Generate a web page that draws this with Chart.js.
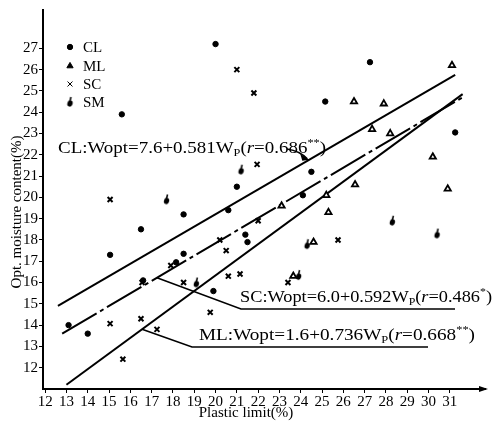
<!DOCTYPE html>
<html>
<head>
<meta charset="utf-8">
<script src="https://cdn.jsdelivr.net/npm/chart.js@4.4.1/dist/chart.umd.min.js"></script>
<style>
  html, body { margin: 0; padding: 0; background: #fff; }
</style>
</head>
<body>
<canvas id="myChart" width="495" height="426"></canvas>
<script>
// tick labels
var xTicks = [12, 13, 14, 15, 16, 17, 18, 19, 20, 21, 22, 23, 24, 25, 26, 27, 28, 29, 30, 31];
var yTicks = [12, 13, 14, 15, 16, 17, 18, 19, 20, 21, 22, 23, 24, 25, 26, 27];

// soil groups (plastic limit Wp, optimum moisture Wopt)
var clWp   = [20.0, 15.6, 21.0, 20.6, 18.5, 16.5, 15.05, 27.25, 25.15, 31.25, 24.5, 24.1, 21.4, 21.5, 18.5, 18.15, 16.6, 19.9, 13.1, 14.0];
var clWopt = [27.2, 23.9, 20.5, 19.4, 19.2, 18.5, 17.3, 26.35, 24.5, 23.05, 21.2, 20.1, 18.25, 17.9, 17.35, 16.95, 16.1, 15.6, 14.0, 13.6];

var mlWp   = [31.1, 26.5, 27.9, 27.35, 28.2, 30.2, 26.55, 30.9, 25.2, 23.1, 25.3, 24.6, 23.65];
var mlWopt = [26.2, 24.5, 24.4, 23.2, 23.0, 21.9, 20.6, 20.4, 20.1, 19.6, 19.3, 17.9, 16.3];

var scWp   = [21.0, 21.8, 21.95, 15.05, 22.0, 20.2, 25.75, 20.5, 17.9, 16.55, 18.5, 20.6, 21.15, 23.4, 19.75, 16.5, 15.05, 17.25, 15.65];
var scWopt = [26.0, 24.9, 21.55, 19.9, 18.9, 18.0, 18.0, 17.5, 16.8, 16.0, 16.0, 16.3, 16.4, 16.0, 14.6, 14.3, 14.07, 13.8, 12.4];

var smWp   = [17.7, 21.2, 24.3, 28.3, 30.4, 19.1, 23.9];
var smWopt = [19.9, 21.3, 17.8, 18.9, 18.3, 16.0, 16.35];

// regression line ends
var clLineWp = [12.6, 31.25];
var clLineWopt = [14.9, 25.75];
var scLineWp = [12.8, 31.6];
var scLineWopt = [13.6, 24.7];
var mlLineWp = [13.0, 31.6];
var mlLineWopt = [11.2, 24.85];

var groups = ["CL", "ML", "SC", "SM"];
var eqCL = ["CL:Wopt=7.6+0.581W", "0.686", "**"];
var eqSC = ["SC:Wopt=6.0+0.592W", "0.486", "*"];
var eqML = ["ML:Wopt=1.6+0.736W", "0.668", "**"];

var SERIF = "'Liberation Serif', 'DejaVu Serif', serif";

function pts(xs, ys) {
  return xs.map(function (v, i) { return { x: v, y: ys[i] }; });
}

// little tear-drop mark used for SM
function tearMark() {
  var c = document.createElement("canvas");
  c.width = 9; c.height = 12;
  var g = c.getContext("2d");
  g.fillStyle = "#000";
  g.beginPath();
  g.ellipse(4.5, 7.5, 2.6, 3.2, 0.3, 0, Math.PI * 2);
  g.fill();
  g.strokeStyle = "#000";
  g.lineWidth = 1.6;
  g.beginPath();
  g.moveTo(4.5, 5);
  g.lineTo(5.5, 1);
  g.stroke();
  return c;
}

function along(lx, ly, wp) {
  return ly[0] + (wp - lx[0]) * (ly[1] - ly[0]) / (lx[1] - lx[0]);
}

// draw "…W_P(r=0.xxx**)" squeezed into a given width
function drawEq(ctx, eq, x, base, width) {
  var big = "17px " + SERIF, small = "11px " + SERIF, ital = "italic 17px " + SERIF;
  var runs = [
    { t: eq[0], f: big, dy: 0 },
    { t: "P", f: small, dy: 3 },
    { t: "(", f: big, dy: 0 },
    { t: "r", f: ital, dy: 0 },
    { t: "=" + eq[1], f: big, dy: 0 },
    { t: eq[2], f: small, dy: -7 },
    { t: ")", f: big, dy: 0 }
  ];
  var total = 0;
  runs.forEach(function (r) { ctx.font = r.f; r.w = ctx.measureText(r.t).width; total += r.w; });
  ctx.save();
  ctx.translate(x, base);
  ctx.scale(width / total, 1);
  var cx = 0;
  runs.forEach(function (r) {
    ctx.font = r.f;
    ctx.fillText(r.t, cx, r.dy);
    cx += r.w;
  });
  ctx.restore();
}

var notes = {
  id: "notes",
  afterDraw: function (chart) {
    var ctx = chart.ctx, xs = chart.scales.x, ys = chart.scales.y, area = chart.chartArea;
    ctx.save();
    ctx.fillStyle = "#000";
    ctx.strokeStyle = "#000";
    ctx.textBaseline = "alphabetic";

    // legend
    var ly = [47, 66, 84, 102];
    groups.forEach(function (name, i) {
      var ds = chart.data.datasets[i];
      Chart.helpers.drawPoint(ctx, {
        pointStyle: ds.pointStyle, radius: ds.pointRadius, rotation: 0,
        borderWidth: ds.borderWidth
      }, 70, ly[i]);
      ctx.fillStyle = "#000";
      ctx.font = "15px " + SERIF;
      ctx.textBaseline = "middle";
      ctx.fillText(name, 83, ly[i] + 1);
    });
    ctx.textBaseline = "alphabetic";

    // equations
    drawEq(ctx, eqCL, 58, 153, 268);
    drawEq(ctx, eqSC, 240, 302, 252);
    drawEq(ctx, eqML, 199, 340, 276);

    ctx.lineWidth = 1.6;
    // CL curved leader with arrow
    var cx = xs.getPixelForValue(24.4), cy = ys.getPixelForValue(along(clLineWp, clLineWopt, 24.4));
    ctx.beginPath();
    ctx.moveTo(287, 149);
    ctx.quadraticCurveTo(300, 151, cx - 2, cy - 1);
    ctx.stroke();
    ctx.beginPath();
    ctx.moveTo(cx, cy);
    ctx.lineTo(cx - 9, cy - 6);
    ctx.lineTo(cx - 7, cy + 1);
    ctx.closePath();
    ctx.fill();

    // SC leader + underline
    var sx = xs.getPixelForValue(17.25), sy = ys.getPixelForValue(along(scLineWp, scLineWopt, 17.25));
    ctx.beginPath();
    ctx.moveTo(sx, sy);
    ctx.lineTo(241, 309);
    ctx.lineTo(455, 309);
    ctx.stroke();

    // ML leader + underline
    var mx = xs.getPixelForValue(16.55), my = ys.getPixelForValue(along(mlLineWp, mlLineWopt, 16.55));
    ctx.beginPath();
    ctx.moveTo(mx, my);
    ctx.lineTo(192, 347);
    ctx.lineTo(428, 347);
    ctx.stroke();

    // arrow at end of x axis
    ctx.beginPath();
    ctx.moveTo(area.right + 3, area.bottom);
    ctx.lineTo(area.right - 6, area.bottom - 3);
    ctx.lineTo(area.right - 6, area.bottom + 3);
    ctx.closePath();
    ctx.fill();

    // axis titles
    ctx.font = "15px " + SERIF;
    ctx.textAlign = "center";
    ctx.textBaseline = "middle";
    ctx.fillText("Plastic limit(%)", 246, 413);
    ctx.translate(17, 212);
    ctx.rotate(-Math.PI / 2);
    ctx.fillText("Opt. moisture content(%)", 0, 0);
    ctx.restore();
  }
};

function makeChart() {
  var canvas = document.getElementById("myChart");
  var lineStyle = { showLine: true, pointRadius: 0, borderColor: "#000", borderWidth: 2, fill: false, tension: 0 };

  new Chart(canvas, {
    type: "scatter",
    data: {
      datasets: [
        { label: "CL", data: pts(clWp, clWopt), pointStyle: "circle", pointRadius: 2.7, backgroundColor: "#000", borderColor: "#000", borderWidth: 1 },
        { label: "ML", data: pts(mlWp, mlWopt), pointStyle: "triangle", pointRadius: 3.6, backgroundColor: "#fff", borderColor: "#000", borderWidth: 1.8 },
        { label: "SC", data: pts(scWp, scWopt), pointStyle: "crossRot", pointRadius: 3.5, backgroundColor: "#000", borderColor: "#000", borderWidth: 2 },
        { label: "SM", data: pts(smWp, smWopt), pointStyle: tearMark(), pointRadius: 4, backgroundColor: "#000", borderColor: "#000", borderWidth: 1 },
        Object.assign({ label: "CL line", data: pts(clLineWp, clLineWopt) }, lineStyle),
        Object.assign({ label: "SC line", data: pts(scLineWp, scLineWopt), borderDash: [40, 4, 4, 4] }, lineStyle),
        Object.assign({ label: "ML line", data: pts(mlLineWp, mlLineWopt) }, lineStyle)
      ]
    },
    options: {
      responsive: false,
      animation: false,
      layout: { padding: { top: 5, right: 10, left: 0, bottom: 0 } },
      plugins: {
        legend: { display: false },
        tooltip: { enabled: false }
      },
      scales: {
        x: {
          type: "linear",
          min: 11.9,
          max: 32.65,
          afterBuildTicks: function (s) { s.ticks = xTicks.map(function (v) { return { value: v }; }); },
          afterFit: function (s) { s.height = 37; },
          ticks: { color: "#000", font: { family: SERIF, size: 15 }, padding: 0, maxRotation: 0, autoSkip: false },
          grid: { drawOnChartArea: false, tickLength: 4, color: "#000" },
          border: { color: "#000", width: 2 }
        },
        y: {
          type: "linear",
          min: 11,
          max: 28.8,
          afterBuildTicks: function (s) { s.ticks = yTicks.map(function (v) { return { value: v }; }); },
          afterFit: function (s) { s.width = 43; },
          ticks: { color: "#000", font: { family: SERIF, size: 15 }, padding: 1, autoSkip: false },
          grid: { drawOnChartArea: false, tickLength: 4, color: "#000" },
          border: { color: "#000", width: 2 }
        }
      }
    },
    plugins: [notes]
  });
}

makeChart();
</script>
</body>
</html>
